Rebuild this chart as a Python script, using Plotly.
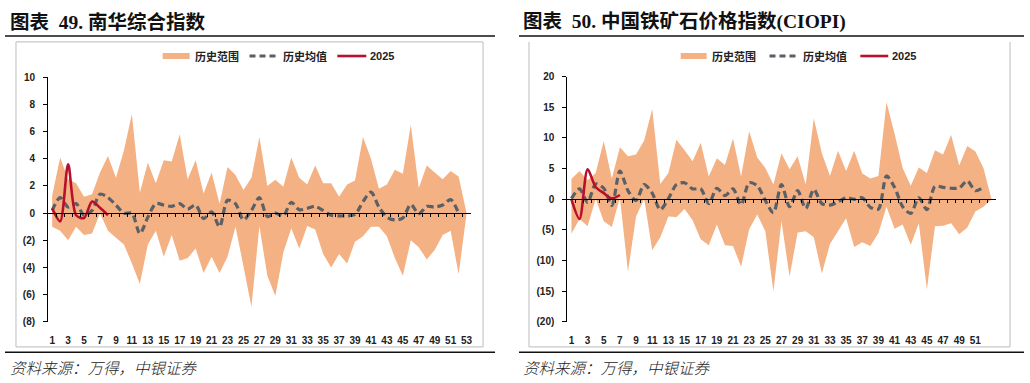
import plotly.graph_objects as go

W, H = 1030, 383

# ---------------- data ----------------
weeks = list(range(1, 54))

nh_upper = [1.3, 4.1, 2.5, 2.2, 1.2, 1.4, 3.0, 4.2, 2.6, 4.6, 7.3, 1.5, 3.7, 2.2, 3.9, 3.8, 5.8, 2.5,
            3.9, 1.45, 3.0, 0.7, 3.4, 2.8, 1.7, 2.6, 5.6, 2.0, 2.45, 1.95, 4.1, 2.6, 2.1, 3.5, 2.2,
            2.2, 1.2, 2.1, 2.4, 5.6, 4.0, 1.8, 2.1, 3.2, 2.9, 6.5, 1.85, 3.5, 3.0, 2.5, 3.1, 2.7, 0.0]
nh_lower = [-1.0, -1.3, -2.0, -1.0, -1.6, -1.5, 0.0, -1.3, -1.8, -2.3, -3.7, -5.2, -2.3, -1.3, -3.2,
            -1.6, -3.5, -3.3, -2.6, -4.4, -3.2, -4.4, -3.2, -1.0, -3.9, -6.9, -0.95, -4.6, -6.1, -2.9,
            -1.1, -2.6, -0.95, -1.2, -3.0, -4.0, -3.0, -3.7, -2.1, -1.7, -1.0, -1.0, -1.7, -3.3, -4.6,
            -2.0, -2.5, -3.4, -2.7, -1.6, -1.3, -4.5, 0.0]
nh_mean = [0.2, 1.15, 0.45, 0.7, -0.15, 0.2, 1.4, 1.15, 0.6, 0.0, 0.0, -1.5, -0.3, 0.7, 0.6, 0.5, 0.7,
           0.3, 0.6, -0.4, 0.1, -1.0, 0.95, 0.7, -0.5, 0.2, 1.15, -0.25, 0.0, -0.2, 0.8, 0.25, 0.35,
           0.5, 0.2, -0.15, -0.2, -0.2, -0.1, 0.85, 1.55, 0.45, -0.3, -0.5, -0.35, 0.65, -0.05, 0.5,
           0.45, 0.6, 1.0, 0.0]
nh_2025 = [0.35, -0.6, 3.6, -0.15, -0.35, 0.85, 0.4, -0.15]

ore_upper = [3.3, 4.6, 3.1, 4.3, 9.5, 3.4, 8.5, 7.0, 7.3, 9.6, 14.7, 2.5, 4.3, 9.7, 8.0, 6.2, 9.2, 3.7,
             6.7, 5.6, 9.9, 3.7, 11.1, 6.8, 5.1, 2.4, 7.5, 4.9, 7.0, 2.4, 13.2, 7.5, 3.8, 7.9, 4.6, 7.9,
             4.2, 3.4, 3.8, 15.8, 10.7, 5.1, 2.2, 5.2, 4.3, 8.0, 7.3, 10.5, 5.5, 8.7, 7.8, 5.1, 0.0]
ore_lower = [-5.6, -3.2, -4.4, 0.1, -3.6, -4.5, 0.3, -11.8, -2.8, 0.1, -8.3, -6.2, -2.8, -2.9, -1.6,
             -3.4, -6.5, -7.5, -4.1, -7.5, -7.6, -11.0, -4.9, -2.5, -5.2, -15.0, -3.6, -12.6, -5.4,
             -5.2, -6.2, -12.1, -7.3, -5.2, -3.1, -7.8, -7.0, -7.6, -5.5, -1.2, -4.8, -4.1, -7.4,
             -3.9, -14.7, -4.4, -4.3, -3.9, -5.7, -4.6, -2.0, -1.2, 0.0]
ore_mean = [0.1, 1.7, -0.5, 2.5, 1.8, -1.0, 4.6, 1.4, -0.2, 2.4, 1.0, -1.7, 0.1, 2.4, 2.7, 1.7, 1.7,
            -0.7, 1.8, 0.6, 1.7, -0.9, 2.7, 2.2, -0.2, -2.2, 2.4, -1.2, 1.4, -1.5, 1.6, -0.7, -0.95,
            -0.4, 0.25, 0.0, 0.25, -1.3, -1.6, 3.8, 1.95, -1.2, -2.3, 0.25, -1.7, 2.1, 1.95, 1.8,
            1.85, 3.0, 1.4, 1.95]
ore_2025 = [0.0, -3.2, 4.9, 2.0, 1.0, 0.15, 0.7]

nh_xticks = list(range(1, 54, 2))
ore_xticks = list(range(1, 52, 2))
nh_yticks = [-8, -6, -4, -2, 0, 2, 4, 6, 8, 10]
nh_ylabels = ["(8)", "(6)", "(4)", "(2)", "0", "2", "4", "6", "8", "10"]
ore_yticks = [-20, -15, -10, -5, 0, 5, 10, 15, 20]
ore_ylabels = ["(20)", "(15)", "(10)", "(5)", "0", "5", "10", "15", "20"]

titles = ["图表  49. 南华综合指数", "图表  50. 中国铁矿石价格指数(CIOPI)"]
legend_names = ["历史范围", "历史均值", "2025"]
source_text = "资料来源：万得，中银证券"

# ---------------- style ----------------
BAND = "#F4B183"
MEAN = "#5B6066"
RED = "#B8102A"
LAT = "Liberation Sans, Arial, Noto Sans CJK SC"
SERIF = "Liberation Serif, Noto Sans CJK SC"


def px(x):
    return x / W


def py(y):
    return 1 - y / H


fig = go.Figure()

panels = [
    dict(upper=nh_upper, lower=nh_lower, mean=nh_mean, cur=nh_2025, xt=nh_xticks,
         yt=nh_yticks, yl=nh_ylabels, yr=[-8, 10], x0=48.3, x1=471.5, y0=73.3, y1=325.3,
         box=(16, 37, 484, 351), top=True, rule=(5, 496), tx=8,
         leg=(163, 190, 193, 250, 277, 282, 338, 367, 369)),
    dict(upper=ore_upper, lower=ore_lower, mean=ore_mean, cur=ore_2025, xt=ore_xticks,
         yt=ore_yticks, yl=ore_ylabels, yr=[-20, 20], x0=568.5, x1=997.5, y0=72.7, y1=325.3,
         box=(530, 37, 1012, 351), top=False, rule=(520, 1026), tx=522,
         leg=(682, 708, 711, 771, 798, 803, 862, 890, 892)),
]

shapes = []
annotations = []

for i, p in enumerate(panels):
    n = i * 2 + 1
    xa = "x" if n == 1 else f"x{n}"
    ya = "y" if i == 0 else "y2"
    xz = f"x{n + 1}"
    yref_name = "yaxis" if i == 0 else "yaxis2"

    # band
    fig.add_trace(go.Scatter(x=weeks, y=p["lower"], mode="lines", line=dict(width=0),
                             hoverinfo="skip", showlegend=False, xaxis=xa, yaxis=ya))
    fig.add_trace(go.Scatter(x=weeks, y=p["upper"], mode="lines", line=dict(width=0),
                             fill="tonexty", fillcolor=BAND, name=legend_names[0],
                             showlegend=False, xaxis=xa, yaxis=ya))
    # mean
    fig.add_trace(go.Scatter(x=weeks[:len(p["mean"])], y=p["mean"], mode="lines",
                             line=dict(color=MEAN, width=3.2, dash="7px,4px", shape="spline",
                                       smoothing=0.8),
                             name=legend_names[1], showlegend=False, xaxis=xa, yaxis=ya))
    # 2025 (drawn on the zero-line overlay axis, same range)
    fig.add_trace(go.Scatter(x=weeks[:len(p["cur"])], y=p["cur"], mode="lines",
                             line=dict(color=RED, width=2.6, shape="spline", smoothing=0.8),
                             name=legend_names[2], showlegend=False, xaxis=xz, yaxis=ya))

    dom_x = [px(p["x0"]), px(p["x1"])]
    dom_y = [py(p["y1"]), py(p["y0"])]
    zero_pos = dom_y[0] + (0 - p["yr"][0]) / (p["yr"][1] - p["yr"][0]) * (dom_y[1] - dom_y[0])

    fig.update_layout(**{
        ("xaxis" if n == 1 else f"xaxis{n}"): dict(
            domain=dom_x, range=[0.5, 53.5], anchor=ya, tickmode="array", tickvals=p["xt"],
            ticktext=[str(v) for v in p["xt"]], ticks="", showline=False, showgrid=False,
            zeroline=False, tickfont=dict(family=LAT, size=10, color="#222", weight="bold"),
            ticklabelstandoff=11, fixedrange=True),
        f"xaxis{n + 1}": dict(
            overlaying=xa, anchor="free", position=zero_pos, range=[0.5, 53.5],
            tickmode="array", tickvals=[k + 0.5 for k in weeks[:-1]], ticks="outside",
            ticklen=3, tickwidth=1, tickcolor="#000", showline=True, linecolor="#000",
            linewidth=1.2, showticklabels=False, showgrid=False, zeroline=False),
        yref_name: dict(
            domain=dom_y, range=p["yr"], anchor=xa, tickmode="array", tickvals=p["yt"],
            ticktext=p["yl"], ticks="outside", ticklen=4, tickcolor="#000", showline=True,
            linecolor="#000", linewidth=1.2, showgrid=False, zeroline=False,
            tickfont=dict(family=LAT, size=10, color="#222", weight="bold"),
            ticklabelstandoff=6, fixedrange=True),
    })

    # frame box
    bx0, by0, bx1, by1 = p["box"]
    grey = dict(color="#C8C8C8", width=1.2)
    shapes.append(dict(type="line", xref="paper", yref="paper", x0=px(bx0), x1=px(bx0),
                       y0=py(by0), y1=py(by1), line=grey))
    shapes.append(dict(type="line", xref="paper", yref="paper", x0=px(bx1), x1=px(bx1),
                       y0=py(by0), y1=py(by1), line=grey))
    shapes.append(dict(type="line", xref="paper", yref="paper", x0=px(bx0), x1=px(bx1),
                       y0=py(by1), y1=py(by1), line=grey))
    if p["top"]:
        shapes.append(dict(type="line", xref="paper", yref="paper", x0=px(bx0), x1=px(bx1),
                           y0=py(by0), y1=py(by0), line=grey))
    # black rules
    r0, r1 = p["rule"]
    for yy in (31, 356.5):
        shapes.append(dict(type="line", xref="paper", yref="paper", x0=px(r0), x1=px(r1),
                           y0=py(yy), y1=py(yy), line=dict(color="#111", width=1.5)))

    # title & source
    annotations.append(dict(xref="paper", yref="paper", x=px(p["tx"]), y=py(16),
                            xanchor="left", yanchor="middle", showarrow=False,
                            text=titles[i],
                            font=dict(family=SERIF, size=19.5, color="#111", weight="bold")))
    annotations.append(dict(xref="paper", yref="paper", x=px(p["tx"]), y=py(372),
                            xanchor="left", yanchor="middle", showarrow=False,
                            text=f"<i>{source_text}</i>",
                            font=dict(family="Noto Sans CJK SC", size=15.5, color="#222",
                                      weight=300)))

    # legend
    l = p["leg"]
    ly = 51.5
    shapes.append(dict(type="line", xref="paper", yref="paper", x0=px(l[0]), x1=px(l[1]),
                       y0=py(ly), y1=py(ly), line=dict(color=BAND, width=6)))
    shapes.append(dict(type="line", xref="paper", yref="paper", x0=px(l[3]), x1=px(l[4]),
                       y0=py(ly), y1=py(ly), line=dict(color=MEAN, width=3, dash="6px,4px")))
    shapes.append(dict(type="line", xref="paper", yref="paper", x0=px(l[6]), x1=px(l[7]),
                       y0=py(ly), y1=py(ly), line=dict(color=RED, width=2.6)))
    for txt, xx in zip(legend_names, (l[2], l[5], l[8])):
        annotations.append(dict(xref="paper", yref="paper", x=px(xx), y=py(ly),
                                xanchor="left", yanchor="middle", showarrow=False, text=txt,
                                font=dict(family=LAT, size=11, color="#222", weight="bold")))

fig.update_layout(
    width=W, height=H, margin=dict(l=0, r=0, t=0, b=0),
    paper_bgcolor="white", plot_bgcolor="white", showlegend=False,
    shapes=shapes, annotations=annotations,
)

fig.write_html(
    "out.html",
    config={"displayModeBar": False},
    post_script="document.body.style.margin='0';document.body.style.padding='0';"
                "document.documentElement.style.overflow='hidden';",
)
